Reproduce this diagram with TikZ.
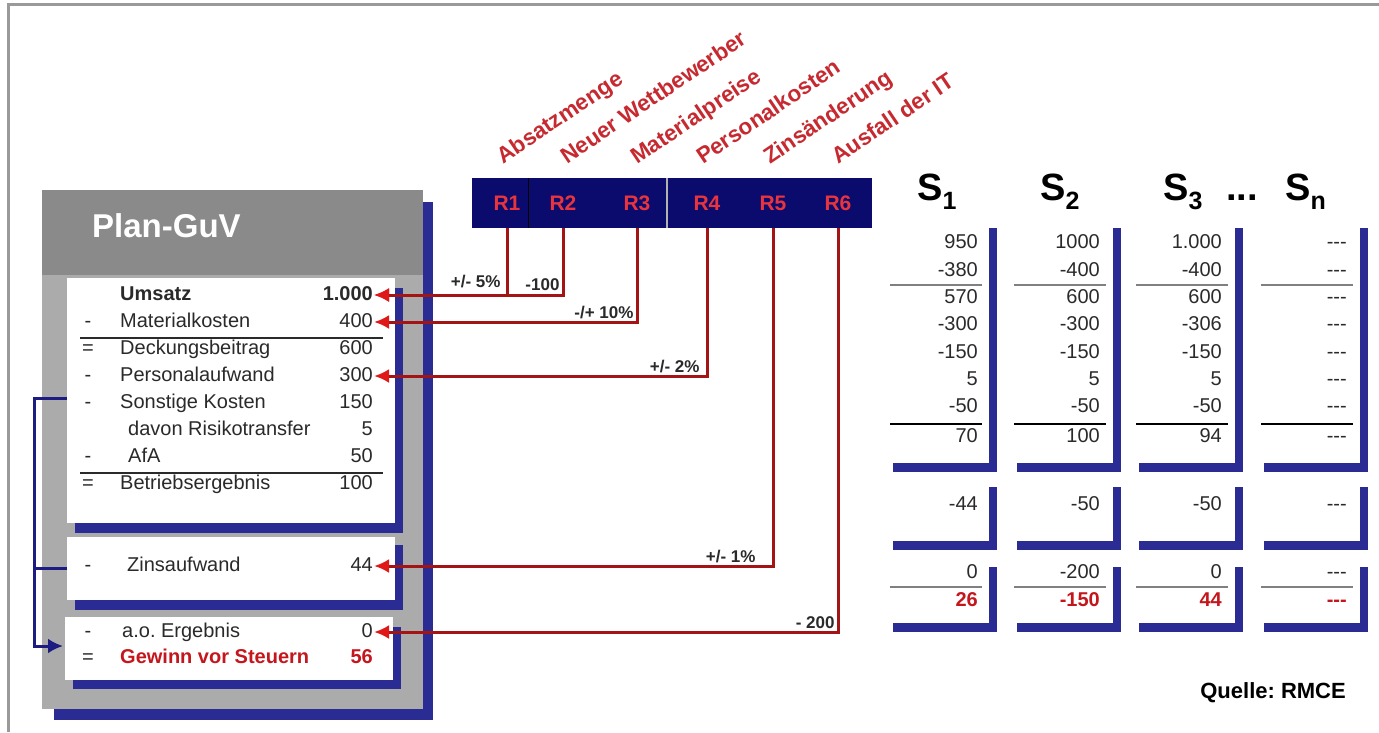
\documentclass[tikz,border=0pt]{standalone}
\usepackage{fontspec}
\setmainfont{Liberation Sans}
\usetikzlibrary{positioning, calc, arrows.meta}
\definecolor{Navy}{HTML}{0B0B6E}
\definecolor{Shade}{HTML}{2B2B94}
\definecolor{Link}{HTML}{1C1C82}
\definecolor{Wire}{HTML}{A31414}
\definecolor{Tip}{HTML}{E01818}
\definecolor{Risk}{HTML}{C62A30}
\definecolor{RText}{HTML}{E8343E}
\definecolor{Head}{HTML}{8A8A8A}
\definecolor{Body}{HTML}{ABABAB}
\definecolor{Frame}{HTML}{9A9A9A}
\definecolor{Ink}{HTML}{2A2A2A}
\definecolor{Loss}{HTML}{C4161C}
\newcommand{\nodata}{-{}-{}-}
\frenchspacing
\tikzset{
    guv/.style={inner sep=0pt, text=Ink, text height=14.5pt, text depth=4pt, font=\fontsize{20}{24}\selectfont},
    guvtxt/.style={guv, anchor=west},
    guvnum/.style={guv, anchor=east, inner sep=1pt},
    panel/.style={rectangle, fill=white, anchor=north west, minimum width=328pt, inner sep=0pt},
    rbox/.style={rectangle, fill=Navy, anchor=north west, minimum width=400pt, minimum height=50pt},
    rlbl/.style={minimum height=50pt, inner sep=0pt, text=RText, font=\bfseries\fontsize{21}{24}\selectfont},
    risk/.style={rotate=34, anchor=base west, inner sep=0pt, text=Risk, font=\bfseries\fontsize{22.5}{24}\selectfont},
    wire/.style={draw=Wire, line width=3pt, -{Latex[length=15pt, width=14pt, color=Tip]}},
    cut/.style={inner sep=2pt, text=Ink, font=\bfseries\fontsize{17}{20}\selectfont},
    link/.style={draw=Link, line width=3pt},
    cell/.style={anchor=east, inner sep=0pt, text=Ink, text height=14.5pt, text depth=4pt, font=\fontsize{20}{24}\selectfont},
    shead/.style={anchor=base west, inner sep=0pt, font=\bfseries\fontsize{38}{40}\selectfont},
}

\begin{document}
\begin{tikzpicture}[x=1pt, y=-1pt]
    \useasboundingbox (0,0) rectangle (1379,732);
    % Rahmen
    \draw[Frame, line width=3pt] (8,732) -- (8,4) -- (1379,4);

    % Plan-GuV Kasten
    \fill[Shade] (54,202) rectangle (433,720);
    \fill[Body] (42,190) rectangle (423,709);
    \fill[Head] (42,190) rectangle (423,275);
    \node[anchor=base west, inner sep=0pt, text=white, font=\bfseries\fontsize{33}{36}\selectfont] (title) at (92,237) {Plan-GuV};

    \fill[Shade] (75,288) rectangle (403,533);
    \node[panel, minimum height=245pt] (pnl1) at (67,278) {};
    \fill[Shade] (75,545) rectangle (403,610);
    \node[panel, minimum height=63pt] (pnl2) at (67,537) {};
    \fill[Shade] (73,627) rectangle (401,689);
    \node[panel, minimum height=63pt] (pnl3) at (65,617) {};

    % Zeilen
    \node[guvtxt, font=\bfseries\fontsize{20}{24}\selectfont] (ums) at (120,295) {Umsatz};
    \node[guvnum, font=\bfseries\fontsize{20}{24}\selectfont] (nUms) at (374,295) {1.000};
    \node[guv] (sg2) at (88,322) {-};
    \node[guvtxt] (mat) at (120,322) {Materialkosten};
    \node[guvnum] (nMat) at (374,322) {400};
    \node[guv] (sg3) at (88,349) {=};
    \node[guvtxt] (db) at (120,349) {Deckungsbeitrag};
    \node[guvnum] (nDb) at (374,349) {600};
    \node[guv] (sg4) at (88,376) {-};
    \node[guvtxt] (pers) at (120,376) {Personalaufwand};
    \node[guvnum] (nPers) at (374,376) {300};
    \node[guv] (sg5) at (88,403) {-};
    \node[guvtxt] (sk) at (120,403) {Sonstige Kosten};
    \node[guvnum] (nSk) at (374,403) {150};
    \node[guvtxt] (rt) at (128,430) {davon Risikotransfer};
    \node[guvnum] (nRt) at (374,430) {5};
    \node[guv] (sg7) at (88,457) {-};
    \node[guvtxt] (afa) at (128,457) {AfA};
    \node[guvnum] (nAfa) at (374,457) {50};
    \node[guv] (sg8) at (88,484) {=};
    \node[guvtxt] (be) at (120,484) {Betriebsergebnis};
    \node[guvnum] (nBe) at (374,484) {100};
    \draw[Ink, line width=1.5pt] (80,338) -- (383,338);
    \draw[Ink, line width=1.5pt] (80,473) -- (383,473);

    \node[guv] (sg9) at (88,566) {-};
    \node[guvtxt] (zins) at (127,566) {Zinsaufwand};
    \node[guvnum] (nZins) at (374,566) {44};

    \node[guv] (sg10) at (88,632) {-};
    \node[guvtxt] (ao) at (122,632) {a.o. Ergebnis};
    \node[guvnum] (nAo) at (374,632) {0};
    \node[guv] (sg11) at (88,658) {=};
    \node[guvtxt, text=Loss, font=\bfseries\fontsize{20}{24}\selectfont] (gew) at (120,658) {Gewinn vor Steuern};
    \node[guvnum, text=Loss, font=\bfseries\fontsize{20}{24}\selectfont] (nGew) at (374,658) {56};

    % Rueckfuehrung links
    \coordinate (aoIn) at (63,646);
    \draw[link, -{Latex[length=15pt, width=15pt]}] (pnl1.west |- 0,398) -- ++(-33,0) |- (aoIn);
    \draw[link] (pnl2.west) -- ++(-33,0);

    % Risiken
    \node[rbox] (rbar) at (472,178) {};
    \draw[black, line width=1pt] (528,178) -- (528,228);
    \draw[gray!60, line width=2pt] (667,178) -- (667,228);
    \node[rlbl] (R1) at (507,203) {R1};
    \node[rlbl] (R2) at (563,203) {R2};
    \node[rlbl] (R3) at (637,203) {R3};
    \node[rlbl] (R4) at (707,203) {R4};
    \node[rlbl] (R5) at (773,203) {R5};
    \node[rlbl] (R6) at (838,203) {R6};

    \node[risk] (lAbs) at ([shift={(-4pt,13pt)}]R1.north) {Absatzmenge};
    \node[risk] (lWett) at ([shift={(4pt,13pt)}]R2.north) {Neuer Wettbewerber};
    \node[risk] (lMat) at ([yshift=13pt]R3.north) {Materialpreise};
    \node[risk] (lPers) at ([shift={(-4pt,13pt)}]R4.north) {Personalkosten};
    \node[risk] (lZins) at ([shift={(-3pt,13pt)}]R5.north) {Zinsänderung};
    \node[risk] (lIT) at ([yshift=13pt]R6.north) {Ausfall der IT};

    \draw[wire] (R1.south) |- (nUms.east) node[cut, pos=0.5, above left, xshift=-3pt, yshift=4pt] {+/- 5\%};
    \draw[wire] (R2.south) |- (nUms.east) node[cut, pos=0.5, above left, yshift=1pt] {-100};
    \draw[wire] (R3.south) |- (nMat.east) node[cut, pos=0.5, above left] {-/+ 10\%};
    \draw[wire] (R4.south) |- (nPers.east) node[cut, pos=0.5, above left, xshift=-4pt] {+/- 2\%};
    \draw[wire] (R5.south) |- (nZins.east) node[cut, pos=0.5, above left, xshift=-14pt] {+/- 1\%};
    \draw[wire] (R6.south) |- (nAo.east) node[cut, pos=0.5, above left] {- 200};

    % Szenarien
    \node[shead] (hS1) at (917,200) {S\raisebox{-9pt}{\fontsize{25}{25}\selectfont 1}};
    \node[shead] (hS2) at (1040,200) {S\raisebox{-9pt}{\fontsize{25}{25}\selectfont 2}};
    \node[shead] (hS3) at (1163,200) {S\raisebox{-9pt}{\fontsize{25}{25}\selectfont 3}};
    \node[shead] (hDots) at (1226,200) {...};
    \node[shead] (hSn) at (1285,200) {S\raisebox{-9pt}{\fontsize{25}{25}\selectfont n}};

    \foreach \cx in {997,1121,1243,1368} {
        \fill[Shade] (\cx-8,228) rectangle (\cx,472);
        \fill[Shade] (\cx-104,463) rectangle (\cx,472);
        \fill[Shade] (\cx-8,487) rectangle (\cx,550);
        \fill[Shade] (\cx-104,541) rectangle (\cx,550);
        \fill[Shade] (\cx-8,567) rectangle (\cx,632);
        \fill[Shade] (\cx-104,623) rectangle (\cx,632);
        \draw[gray, line width=1.5pt] (\cx-107,285) -- (\cx-15,285);
        \draw[black, line width=1.5pt] (\cx-107,424) -- (\cx-15,424);
        \draw[gray, line width=1.5pt] (\cx-107,587) -- (\cx-15,587);
    }

    \foreach \y/\a/\b/\c/\d [count=\r] in {
        243/950/1000/1.000/\nodata,
        271/-380/-400/-400/\nodata,
        298/570/600/600/\nodata,
        325/-300/-300/-306/\nodata,
        353/-150/-150/-150/\nodata,
        380/5/5/5/\nodata,
        407/-50/-50/-50/\nodata,
        437/70/100/94/\nodata,
        505/-44/-50/-50/\nodata,
        573/0/-200/0/\nodata} {
        \node[cell] (a\r) at (978,\y) {\a};
        \node[cell] (b\r) at (1100,\y) {\b};
        \node[cell] (c\r) at (1222,\y) {\c};
        \node[cell] (d\r) at (1347,\y) {\d};
    }
    \foreach \x/\v [count=\k] in {978/26, 1100/-150, 1222/44, 1347/\nodata}
        \node[cell, text=Loss, font=\bfseries\fontsize{20}{24}\selectfont] (e\k) at (\x,601) {\v};

    \node[anchor=base east, inner sep=0pt, font=\bfseries\fontsize{22}{24}\selectfont] (src) at (1346,698) {Quelle: RMCE};
\end{tikzpicture}
\end{document}
